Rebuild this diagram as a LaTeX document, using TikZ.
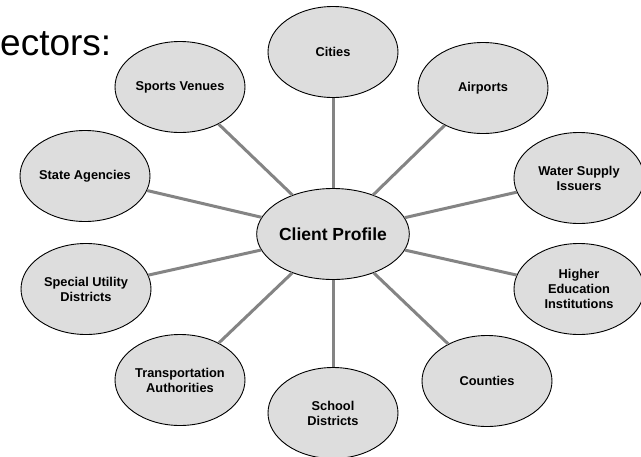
\documentclass[tikz,border=0pt]{standalone}
\usepackage{fontspec}
\setmainfont{Liberation Sans}
\usetikzlibrary{shapes.geometric}
\begin{document}
\begin{tikzpicture}[x=1pt,y=-1pt,
  bubble/.style={ellipse, draw=black, line width=0.9pt, fill=bubblegray,
    minimum width=130pt, minimum height=91pt, inner sep=0pt,
    align=center, font=\fontsize{12.8}{15}\selectfont\bfseries},
  hubbubble/.style={bubble, font=\fontsize{17.5}{20}\selectfont\bfseries},
  spoke/.style={draw=spokegray, line width=3pt}]
\definecolor{bubblegray}{RGB}{221,221,221}
\definecolor{spokegray}{RGB}{132,132,132}
\clip (0,0) rectangle (641,456);
\fill[white] (0,0) rectangle (641,456);

% heading fragment
\node[anchor=base west, inner sep=0pt, font=\fontsize{37}{44}\selectfont] (heading) at (0,55) {ectors:};

% hub and satellites
\node[hubbubble] (hub) at (333,234) {Client Profile};
\node[bubble] (cities)   at (333,52)  {Cities};
\node[bubble] (sports)   at (180,87)  {Sports Venues};
\node[bubble] (airports) at (483,88)  {Airports};
\node[bubble] (state)    at (85,176)  {State Agencies};
\node[bubble] (water)    at (579,178) {Water Supply\\Issuers};
\node[bubble] (utility)  at (86,289)  {Special Utility\\Districts};
\node[bubble] (higher)   at (579,289) {Higher\\Education\\Institutions};
\node[bubble] (transport) at (180,380) {Transportation\\Authorities};
\node[bubble] (counties) at (487,381) {Counties};
\node[bubble] (school)   at (333,413) {School\\Districts};

% spokes from the hub
\foreach \n in {cities,sports,airports,state,water,utility,higher,transport,counties,school}
  \draw[spoke] (hub) -- (\n);
\end{tikzpicture}
\end{document}
